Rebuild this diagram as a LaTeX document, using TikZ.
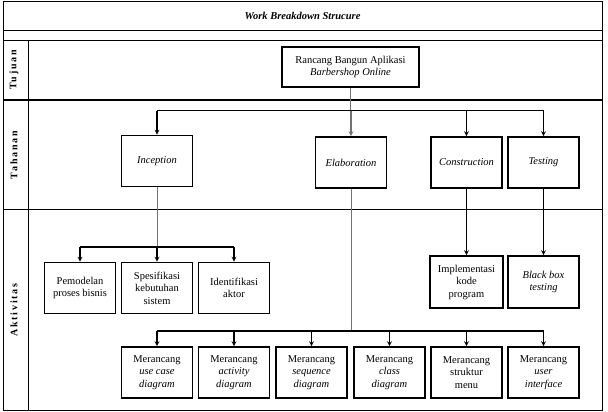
\documentclass[tikz,border=0pt]{standalone}
\usepackage{fontspec}
\setmainfont{Liberation Serif}
\newfontfamily\spacedfont[LetterSpace=18]{Liberation Serif}
\usetikzlibrary{arrows,positioning,calc}

\begin{document}
\begin{tikzpicture}[
    x=1pt, y=-1pt,
    every node/.style={font=\fontsize{10.5}{12.5}\selectfont},
    block/.style={rectangle, draw, line width=1.6pt, fill=white, align=center, minimum width=71, minimum height=51, inner sep=1pt},
    lane/.style={rotate=90, font=\spacedfont\bfseries\fontsize{10}{12}\selectfont},
    frame/.style={line width=1pt},
    stem/.style={draw=black!55, line width=0.9pt},
    bus/.style={line width=1.2pt},
    arrow/.style={->, >=stealth, line width=1.2pt}
]
\useasboundingbox (0,0) rectangle (608,412);

% Frame
\draw[frame] (3,2) rectangle (602,410);
\draw[frame] (3,31) -- (602,31);
\draw[frame] (3,41) -- (602,41);
\draw[line width=1.8pt] (3,100) -- (602,100);
\draw[frame] (3,209) -- (602,209);
\draw[frame] (28,41) -- (28,410);

% Title and lanes
\node[font=\bfseries\itshape\fontsize{10.5}{12}\selectfont] (title) at (302.5,16) {Work Breakdown Strucure};
\node[lane] (tujuan) at (14,70) {Tujuan};
\node[lane] (tahanan) at (14,155) {Tahanan};
\node[lane] (aktivitas) at (14,310) {Aktivitas};

% Tujuan
\node[block, minimum width=137, minimum height=40] (root) at (350.5,67) {Rancang Bangun Aplikasi\\\textit{Barbershop Online}};

% Tahanan
\node[block] (incep) at (157,161) {\textit{Inception}};
\node[block] (elab) at (351,162.5) {\textit{Elaboration}};
\node[block] (constr) at (466.5,162.5) {\textit{Construction}};
\node[block] (test) at (543.5,162.5) {\textit{Testing}};

% Aktivitas
\node[block] (pemodelan) at (80,288) {Pemodelan\\proses bisnis};
\node[block] (spesifikasi) at (157,288) {Spesifikasi\\kebutuhan\\sistem};
\node[block] (identifikasi) at (234,288) {Identifikasi\\aktor};
\node[block, minimum width=73, minimum height=52] (implementasi) at (466.5,282) {Implementasi\\kode\\program};
\node[block, minimum height=52] (blackbox) at (543.5,282) {\textit{Black box}\\\textit{testing}};

\node[block] (usecase) at (157,372.5) {Merancang\\\textit{use case}\\\textit{diagram}};
\node[block] (activity) at (234,372.5) {Merancang\\\textit{activity}\\\textit{diagram}};
\node[block] (sequence) at (311.5,372.5) {Merancang\\\textit{sequence}\\\textit{diagram}};
\node[block] (class) at (389.5,372.5) {Merancang\\\textit{class}\\\textit{diagram}};
\node[block] (struktur) at (466.5,372.5) {Merancang\\struktur\\menu};
\node[block] (userif) at (543.5,372.5) {Merancang\\\textit{user}\\\textit{interface}};

% Buses
\coordinate (busA) at (0,110.5);
\coordinate (busB) at (0,247);
\coordinate (busC) at (0,331);

% Root to phases
\draw[stem] (root.south) -- (root.south |- busA);
\draw[bus] (incep.north |- busA) -- (test.north |- busA);
\draw[arrow] (incep.north |- busA) -- (incep.north);
\draw[arrow, draw=black!55] (elab.north |- busA) -- (elab.north);
\draw[arrow] (constr.north |- busA) -- (constr.north);
\draw[arrow] (test.north |- busA) -- (test.north);

% Inception
\draw[stem] (incep.south) -- (incep.south |- busB);
\draw[bus] (pemodelan.north |- busB) -- (identifikasi.north |- busB);
\draw[arrow] (pemodelan.north |- busB) -- (pemodelan.north);
\draw[arrow] (spesifikasi.north |- busB) -- (spesifikasi.north);
\draw[arrow] (identifikasi.north |- busB) -- (identifikasi.north);

% Construction and Testing
\draw[arrow] (constr.south) -- (implementasi.north);
\draw[arrow] (test.south) -- (blackbox.north);

% Elaboration
\draw[stem] (elab.south) -- (elab.south |- busC);
\draw[bus] (usecase.north |- busC) -- (userif.north |- busC);
\foreach \n in {usecase,activity,sequence,class,struktur,userif}
  \draw[arrow] (\n.north |- busC) -- (\n.north);

\end{tikzpicture}
\end{document}
